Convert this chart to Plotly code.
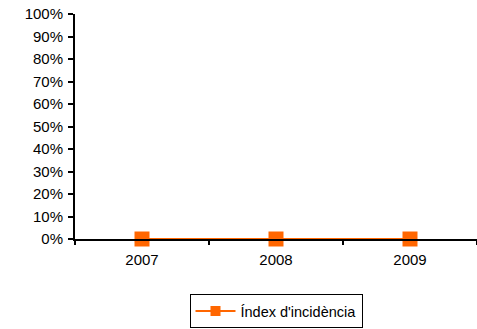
import plotly.graph_objects as go

years = ["2007", "2008", "2009"]
incidence = [0.0, 0.0, 0.0]
y_ticks = [i / 10 for i in range(11)]
y_labels = [f"{i * 10}%" for i in range(11)]

orange = "#FF6600"

fig = go.Figure()
# data series (legend entry drawn separately with a smaller symbol)
fig.add_trace(go.Scatter(
    x=years, y=incidence, mode="lines+markers",
    name="Índex d'incidència", showlegend=False,
    line=dict(color=orange, width=2),
    marker=dict(symbol="square", size=15, color=orange),
    cliponaxis=False,
))
fig.add_trace(go.Scatter(
    x=[None], y=[None], mode="lines+markers",
    name="Índex d'incidència",
    line=dict(color=orange, width=2),
    marker=dict(symbol="square", size=10, color=orange),
))

fig.update_layout(
    width=477, height=329,
    margin=dict(l=75, r=0, t=14, b=90, autoexpand=False),
    paper_bgcolor="white", plot_bgcolor="white",
    font=dict(family="Liberation Sans, Arial, sans-serif", size=15, color="black"),
    showlegend=True,
    legend=dict(
        orientation="h", x=0.5, xanchor="center",
        yref="container", y=0.106, yanchor="top",
        bordercolor="black", borderwidth=1, bgcolor="white",
        font=dict(size=14.5), itemwidth=40,
    ),
)
fig.update_xaxes(
    type="category", range=[-0.5, 2.5], tickson="boundaries",
    ticks="outside", ticklen=4, tickwidth=2, tickcolor="black",
    showline=True, linecolor="black", linewidth=2,
    showgrid=False, zeroline=False, ticklabelstandoff=6,
)
fig.update_yaxes(
    range=[0, 1], tickvals=y_ticks, ticktext=y_labels,
    ticks="outside", ticklen=5, tickwidth=2, tickcolor="black",
    showline=True, linecolor="black", linewidth=2,
    showgrid=False, zeroline=False, ticklabelstandoff=2,
)

fig.write_html("out.html")
